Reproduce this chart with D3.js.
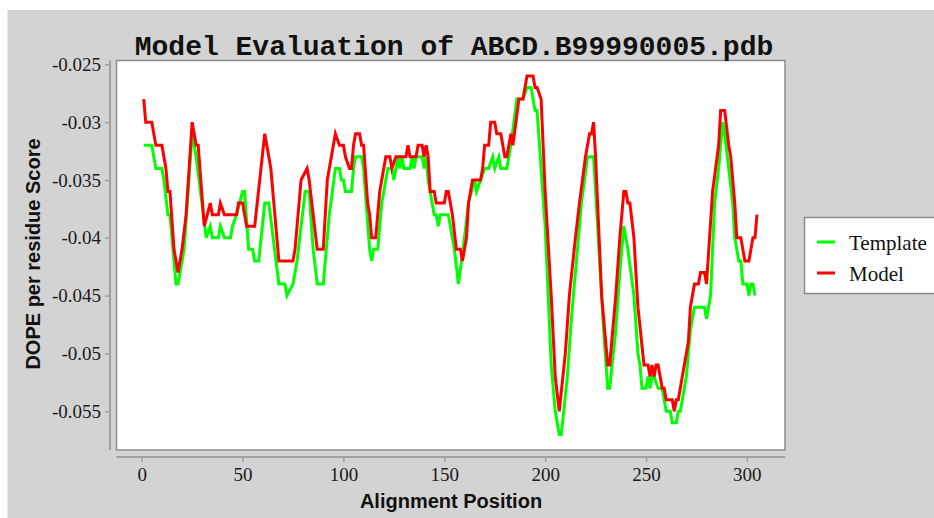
<!DOCTYPE html>
<html>
<head>
<meta charset="utf-8">
<script src="https://cdn.jsdelivr.net/npm/d3@7"></script>
<style>
  html, body { margin: 0; padding: 0; background: #fff; }
  svg { display: block; }
</style>
</head>
<body>
<svg id="chart" width="934" height="518"></svg>
<script>
// chart values (alignment position, DOPE score)
const titleText = "Model Evaluation of ABCD.B99990005.pdb";
const xLabel = "Alignment Position";
const yLabel = "DOPE per residue Score";
const xTicks = [0, 50, 100, 150, 200, 250, 300];
const yTicks = [-0.025, -0.03, -0.035, -0.04, -0.045, -0.05, -0.055];
const seriesNames = ["Template", "Model"];
const seriesColors = ["#00ff00", "#ff0000"];

const templatePts = [
  [1,-0.032],[5,-0.032],[7,-0.034],[10,-0.034],[11,-0.035],[13,-0.038],[14,-0.038],
  [16,-0.042],[17,-0.044],[18,-0.044],[21,-0.041],[25,-0.031],[27,-0.033],[32,-0.040],
  [34,-0.039],[35,-0.040],[38,-0.040],[39,-0.039],[41,-0.040],[44,-0.040],[45,-0.039],
  [47,-0.038],[50,-0.036],[51,-0.036],[53,-0.041],[55,-0.041],[56,-0.042],[58,-0.042],
  [61,-0.037],[63,-0.037],[68,-0.044],[71,-0.044],[72,-0.045],[75,-0.044],[77,-0.042],
  [81,-0.036],[83,-0.036],[85,-0.041],[87,-0.044],[90,-0.044],[93,-0.038],[96,-0.034],
  [98,-0.034],[99,-0.035],[100,-0.035],[101,-0.036],[104,-0.036],[105,-0.034],[106,-0.033],
  [109,-0.033],[110,-0.034],[113,-0.041],[114,-0.042],[115,-0.041],[117,-0.041],[119,-0.037],
  [122,-0.034],[124,-0.034],[125,-0.035],[126,-0.034],[127,-0.033],[128,-0.034],[129,-0.033],
  [130,-0.034],[133,-0.034],[134,-0.033],[135,-0.034],[136,-0.033],[139,-0.033],[140,-0.034],
  [141,-0.033],[142,-0.035],[145,-0.038],[146,-0.038],[147,-0.039],[148,-0.038],[152,-0.038],
  [155,-0.041],[157,-0.044],[160,-0.040],[162,-0.037],[165,-0.035],[166,-0.036],[168,-0.035],
  [170,-0.034],[172,-0.034],[174,-0.033],[175,-0.034],[177,-0.033],[178,-0.034],[181,-0.034],
  [183,-0.032],[186,-0.028],[189,-0.028],[191,-0.027],[193,-0.027],[195,-0.029],[196,-0.029],
  [200,-0.039],[203,-0.051],[205,-0.055],[207,-0.057],[208,-0.057],[211,-0.052],[213,-0.047],
  [216,-0.041],[218,-0.037],[221,-0.033],[224,-0.033],[226,-0.039],[229,-0.048],[231,-0.053],
  [232,-0.053],[235,-0.048],[237,-0.043],[239,-0.039],[241,-0.041],[244,-0.045],[246,-0.050],
  [247,-0.051],[248,-0.053],[250,-0.053],[251,-0.052],[252,-0.053],[253,-0.052],[254,-0.052],
  [256,-0.053],[258,-0.053],[260,-0.055],[262,-0.055],[263,-0.056],[265,-0.056],[266,-0.055],
  [267,-0.055],[270,-0.052],[272,-0.048],[274,-0.046],[279,-0.046],[280,-0.047],[282,-0.045],
  [284,-0.037],[286,-0.034],[288,-0.030],[289,-0.031],[291,-0.034],[293,-0.037],[294,-0.040],
  [296,-0.042],[297,-0.042],[298,-0.044],[300,-0.044],[301,-0.045],[302,-0.044],[303,-0.044],
  [304,-0.045]
];

const modelPts = [
  [1,-0.028],[2,-0.030],[5,-0.030],[7,-0.032],[10,-0.032],[12,-0.034],[13,-0.036],[14,-0.036],
  [16,-0.041],[18,-0.043],[20,-0.041],[22,-0.038],[25,-0.030],[27,-0.032],[28,-0.032],
  [31,-0.039],[34,-0.037],[35,-0.038],[38,-0.038],[39,-0.037],[41,-0.038],[47,-0.038],
  [48,-0.037],[50,-0.037],[52,-0.039],[56,-0.039],[61,-0.031],[64,-0.034],[68,-0.042],
  [75,-0.042],[76,-0.041],[79,-0.035],[82,-0.034],[83,-0.035],[87,-0.041],[90,-0.041],
  [92,-0.035],[96,-0.031],[98,-0.032],[100,-0.032],[101,-0.033],[103,-0.034],[104,-0.034],
  [105,-0.032],[106,-0.031],[108,-0.031],[109,-0.032],[110,-0.032],[112,-0.037],[113,-0.038],
  [114,-0.040],[116,-0.040],[118,-0.036],[121,-0.033],[123,-0.033],[124,-0.034],[126,-0.033],
  [131,-0.033],[132,-0.032],[133,-0.033],[136,-0.033],[137,-0.032],[139,-0.032],[140,-0.033],
  [141,-0.032],[142,-0.033],[143,-0.036],[145,-0.036],[146,-0.037],[150,-0.037],[151,-0.036],
  [152,-0.036],[154,-0.038],[156,-0.041],[158,-0.041],[159,-0.042],[161,-0.040],[162,-0.037],
  [164,-0.035],[168,-0.035],[169,-0.034],[170,-0.032],[172,-0.032],[173,-0.030],[175,-0.030],
  [176,-0.031],[178,-0.031],[180,-0.033],[181,-0.033],[183,-0.031],[184,-0.032],[187,-0.028],
  [189,-0.028],[191,-0.026],[194,-0.026],[195,-0.027],[196,-0.027],[198,-0.028],[200,-0.036],
  [203,-0.045],[205,-0.052],[207,-0.055],[210,-0.050],[212,-0.045],[215,-0.040],[217,-0.037],
  [220,-0.033],[222,-0.031],[223,-0.031],[224,-0.030],[225,-0.033],[228,-0.045],[231,-0.051],
  [232,-0.051],[235,-0.045],[237,-0.040],[239,-0.036],[240,-0.036],[241,-0.037],[242,-0.037],
  [244,-0.040],[246,-0.046],[249,-0.051],[251,-0.051],[252,-0.052],[253,-0.051],[254,-0.052],
  [255,-0.051],[256,-0.051],[258,-0.053],[259,-0.053],[260,-0.054],[263,-0.054],[264,-0.055],
  [265,-0.054],[266,-0.054],[268,-0.052],[271,-0.049],[272,-0.046],[274,-0.044],[276,-0.044],
  [277,-0.043],[279,-0.043],[280,-0.044],[283,-0.036],[286,-0.032],[287,-0.029],[289,-0.029],
  [291,-0.032],[292,-0.033],[294,-0.037],[295,-0.040],[297,-0.040],[299,-0.042],[301,-0.042],
  [303,-0.040],[304,-0.040],[305,-0.038]
];

const svg = d3.select("#chart");

// plot frame (pixels)
const plot = {left: 116.5, right: 785, top: 60.5, bottom: 450};

// grey panel behind everything
svg.append("rect")
  .attr("x", 7.5).attr("y", 10)
  .attr("width", 934 - 7.5).attr("height", 518 - 10)
  .attr("fill", "#d3d3d3");

const x = d3.scaleLinear().domain([-12.5, 318.9]).range([plot.left, plot.right]);
const y = d3.scaleLinear().domain([-0.05835, -0.02467]).range([plot.bottom, plot.top]);

// white plotting area
svg.append("rect")
  .attr("x", plot.left).attr("y", plot.top)
  .attr("width", plot.right - plot.left).attr("height", plot.bottom - plot.top)
  .attr("fill", "#fff")
  .attr("stroke", "#8c8c8c")
  .attr("stroke-width", 1.5);

// axes, offset from the frame
const xAxis = svg.append("g")
  .attr("transform", "translate(0," + 457 + ")")
  .call(d3.axisBottom(x).tickValues(xTicks).tickSize(5).tickSizeOuter(0).tickPadding(6)
    .tickFormat(d => String(d)));

const yAxis = svg.append("g")
  .attr("transform", "translate(" + 110 + ",0)")
  .call(d3.axisLeft(y).tickValues(yTicks).tickSize(5).tickSizeOuter(0).tickPadding(4)
    .tickFormat(d => String(+d.toFixed(3))));

xAxis.select(".domain").attr("d", "M" + plot.left + ",0H" + plot.right);
yAxis.select(".domain").attr("d", "M0," + plot.top + "V" + plot.bottom);

[xAxis, yAxis].forEach(g => {
  g.select(".domain").attr("stroke", "#a0a0a0").attr("stroke-width", 2);
  g.selectAll(".tick line").attr("stroke", "#a0a0a0").attr("stroke-width", 1.5);
  g.selectAll(".tick text")
    .attr("font-family", "'Liberation Serif', 'Times New Roman', serif")
    .attr("font-size", "19px")
    .attr("fill", "#1a1a1a");
});

// series lines
const line = d3.line().x(d => x(d[0])).y(d => y(d[1]));

svg.append("g")
  .selectAll("path")
  .data([templatePts, modelPts])
  .enter().append("path")
    .attr("d", line)
    .attr("fill", "none")
    .attr("stroke", (d, i) => seriesColors[i])
    .attr("stroke-width", 3)
    .attr("stroke-linejoin", "miter");

// title
svg.append("text")
  .attr("x", 454).attr("y", 55)
  .attr("text-anchor", "middle")
  .attr("font-family", "'Liberation Mono', 'Courier New', monospace")
  .attr("font-weight", "bold")
  .attr("font-size", "28px")
  .attr("fill", "#111")
  .text(titleText);

// axis titles
svg.append("text")
  .attr("x", 451).attr("y", 508)
  .attr("text-anchor", "middle")
  .attr("font-family", "'Liberation Sans', Arial, sans-serif")
  .attr("font-weight", "bold")
  .attr("font-size", "20px")
  .attr("fill", "#111")
  .text(xLabel);

svg.append("text")
  .attr("transform", "translate(40,254) rotate(-90)")
  .attr("text-anchor", "middle")
  .attr("font-family", "'Liberation Sans', Arial, sans-serif")
  .attr("font-weight", "bold")
  .attr("font-size", "20px")
  .attr("fill", "#111")
  .text(yLabel);

// legend
const legend = svg.append("g");
legend.append("rect")
  .attr("x", 804.5).attr("y", 217.5)
  .attr("width", 140).attr("height", 76)
  .attr("fill", "#fff")
  .attr("stroke", "#8c8c8c")
  .attr("stroke-width", 1.5);

const item = legend.selectAll("g.item")
  .data(seriesNames)
  .enter().append("g")
    .attr("class", "item")
    .attr("transform", (d, i) => "translate(0," + (242 + i * 31) + ")");

item.append("line")
  .attr("x1", 817).attr("x2", 835)
  .attr("stroke", (d, i) => seriesColors[i])
  .attr("stroke-width", 3);

item.append("text")
  .attr("x", 849).attr("y", 8)
  .attr("font-family", "'Liberation Serif', 'Times New Roman', serif")
  .attr("font-size", "21px")
  .attr("fill", "#111")
  .text(d => d);
</script>
</body>
</html>
